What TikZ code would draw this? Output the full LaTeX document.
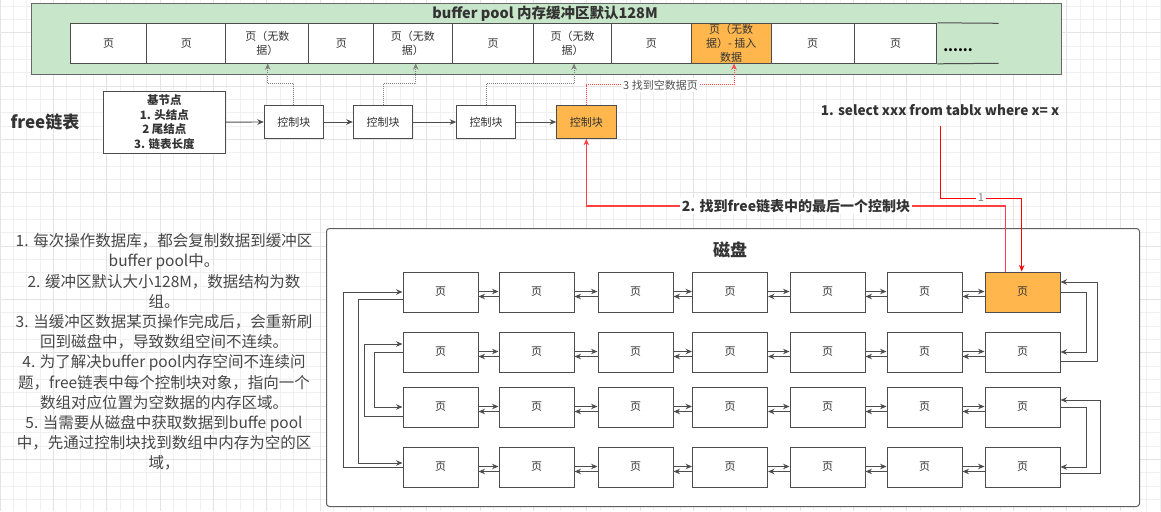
\documentclass[tikz,border=0pt]{standalone}
\usepackage{fontspec}
\setmainfont{Noto Sans CJK SC}
\usetikzlibrary{arrows.meta,calc}
\definecolor{bpgreen}{RGB}{200,230,201}
\definecolor{orng}{RGB}{255,183,77}
\definecolor{bdr}{RGB}{77,77,77}
\definecolor{txt}{RGB}{51,51,51}
\definecolor{gridA}{RGB}{240,240,240}
\definecolor{gridB}{RGB}{228,228,228}
\begin{document}
\begin{tikzpicture}[x=1pt,y=-1pt,
  every node/.style={inner sep=0pt,text=txt},
  cell/.style={draw=bdr,line width=1pt,fill=white,minimum height=40pt,align=center,
    font=\fontsize{11}{14}\selectfont},
  cbox/.style={draw=bdr,line width=1pt,fill=white,minimum height=32.6pt,align=center,
    font=\fontsize{11}{14}\selectfont},
  page/.style={draw=bdr,line width=1pt,fill=white,minimum width=75pt,minimum height=40pt,
    font=\fontsize{11}{14}\selectfont},
  arr/.style={draw=bdr,line width=0.9pt,-{Stealth[length=6.5pt,width=5.5pt]}},
  dotline/.style={draw=gray,line width=0.9pt,dash pattern=on 1pt off 1pt,-{Stealth[length=6.5pt,width=5.5pt]}},
  reddot/.style={draw=red!70,line width=0.9pt,dash pattern=on 1pt off 1pt,-{Stealth[length=6.5pt,width=5.5pt]}},
  redarr/.style={draw=red,line width=0.9pt,-{Stealth[length=6.5pt,width=5.5pt]}},
  redarrb/.style={draw=red!75,line width=1.1pt,-{Stealth[length=6.5pt,width=5.5pt]}},
  lbl/.style={fill=white,inner sep=1.5pt},
  bold14/.style={font=\bfseries\fontsize{14}{16}\selectfont},
]
\useasboundingbox (0,0) rectangle (1161,511);
\fill[white] (0,0) rectangle (1161,511);
% background grid
\foreach \i in {0,...,87} \draw[gridA,line width=0.8pt] (\i*13.333,0) -- (\i*13.333,511);
\foreach \j in {0,...,38} \draw[gridA,line width=0.8pt] (0,6+\j*13.333) -- (1161,6+\j*13.333);
\foreach \i in {0,4,...,84} \draw[gridB,line width=0.8pt] (\i*13.333,0) -- (\i*13.333,511);
\foreach \j in {2,6,...,38} \draw[gridB,line width=0.8pt] (0,6+\j*13.333) -- (1161,6+\j*13.333);

% buffer pool
\node[draw=bdr!85,fill=bpgreen,line width=1pt,minimum width=1030.3pt,minimum height=70.7pt,anchor=north west] (bp) at (30.7,3.3) {};
\node[bold14,font=\bfseries\fontsize{14.5}{16}\selectfont] (bpt) at (545,13.3) {buffer pool 内存缓冲区默认128M};
\node[cell,minimum width=76.6pt] (c1) at (108.6,43.3) {页};
\node[cell,minimum width=78.8pt] (c2) at (186.3,43.3) {页};
\node[cell,minimum width=83.2pt] (c3) at (267.3,43.3) {页（无数\\据）};
\node[cell,minimum width=64.8pt] (c4) at (341.3,43.3) {页};
\node[cell,minimum width=78.4pt] (c5) at (412.9,43.3) {页（无数\\据）};
\node[cell,minimum width=81.8pt] (c6) at (493,43.3) {页};
\node[cell,minimum width=77.6pt] (c7) at (572.7,43.3) {页（无数\\据）};
\node[cell,minimum width=79.7pt] (c8) at (651.35,43.3) {页};
\node[cell,minimum width=80pt,fill=orng] (c9) at (731.2,43.3) {页（无数\\据）- 插入\\数据};
\node[cell,minimum width=83pt] (c10) at (812.7,43.3) {页};
\node[cell,minimum width=82.6pt] (c11) at (895.5,43.3) {页};
\coordinate (e1) at (998.7,23.3);
\coordinate (e2) at (998.7,63.3);
\draw[bdr,line width=1pt] (c11.north east) -- (e1);
\draw[bdr,line width=1pt] (c11.south east) -- (e2);
\node[font=\bfseries\fontsize{14}{16}\selectfont,text=black] (dots) at (958,50) {......};

% free list
\node[font=\bfseries\fontsize{17}{20}\selectfont] (free) at (45,122) {free链表};
\node[cbox,minimum width=122.7pt,minimum height=62.3pt,font=\bfseries\fontsize{11.5}{14.7}\selectfont] (base) at (164.35,122.15) {基节点\\1. 头结点\\2 尾结点\\3. 链表长度};
\node[cbox,minimum width=59pt] (cb1) at (293.8,122) {控制块};
\node[cbox,minimum width=59.4pt] (cb2) at (383,122) {控制块};
\node[cbox,minimum width=59pt] (cb3) at (486.2,122) {控制块};
\node[cbox,minimum width=59.3pt,fill=orng] (cb4) at (586.35,122) {控制块};
\draw[arr] (base.east) -- (cb1.west);
\draw[arr] (cb1.east) -- (cb2.west);
\draw[arr] (cb2.east) -- (cb3.west);
\draw[arr] (cb3.east) -- (cb4.west);

\coordinate (t3) at (267.7,63.3);
\coordinate (t5) at (415.7,63.3);
\coordinate (t7) at (574,63.3);
\coordinate (t9) at (734,63.3);
\draw[dotline] (cb1.north) -- ++(0,-21.4) -| (t3);
\draw[dotline] (cb2.north) -- ++(0,-21.4) -| (t5);
\draw[dotline] (cb3.north) -- ++(0,-21.4) -| (t7);
\draw[reddot] (cb4.north) -- ++(0,-20.7) -| (t9);
\node[lbl,font=\fontsize{11}{13}\selectfont,text=txt!85] (l3) at (660.5,85) {3 找到空数据页};

% disk
\node[draw=bdr!90,fill=white,line width=1pt,rounded corners=3pt,minimum width=813pt,minimum height=278pt,anchor=north west] (disk) at (326,228) {};
\node[font=\bfseries\fontsize{17}{20}\selectfont] (diskt) at (730,250) {磁盘};
\foreach \r/\yc in {1/292,2/352,3/407,4/467}
  \foreach \c/\xc in {1/440.5,2/536.5,3/635.5,4/730,5/827.5,6/924.5,7/1022.5}
    \node[page] (p\r\c) at (\xc,\yc) {页};
\node[page,fill=orng] (p17) at (1022.5,292) {页};
\foreach \r in {1,2,3,4} {
  \foreach \c in {1,2,3,4,5,6} {
    \pgfmathtruncatemacro{\nx}{\c+1}
    \draw[arr] ([yshift=0.5pt]p\r\c.east) -- ([yshift=0.5pt]p\r\nx.west);
    \draw[arr] ([yshift=-4.5pt]p\r\nx.west) -- ([yshift=-4.5pt]p\r\c.east);
  }
}
% right loops
\draw[arr] ([yshift=-9pt]p27.east) -- ++(36.5,0) |- ([yshift=10pt]p17.east);
\draw[arr] (p17.east) -- ++(25.7,0) |- (p27.east);
\draw[arr] ([yshift=-6pt]p47.east) -- ++(39.5,0) |- ([yshift=7pt]p37.east);
\draw[arr] (p37.east) -- ++(26,0) |- (p47.east);
% left loops
\draw[arr] (p41.west) -- ++(-59,0) |- (p11.west);
\draw[arr] ([yshift=-7pt]p11.west) -- ++(-44,0) |- ([yshift=4pt]p41.west);
\draw[arr] ([yshift=-9pt]p31.west) -- ++(-38,0) |- ([yshift=8pt]p21.west);
\draw[arr] (p21.west) -- ++(-28,0) |- (p31.west);

% query lines
\node[font=\bfseries\fontsize{13.6}{16}\selectfont] (sel) at (940,110) {1. select xxx from tablx where x= x};
\coordinate (s1) at (940,126);
\coordinate (k1) at (1021.7,198);
\draw[redarr] (s1) |- (k1) -- (k1 |- p17.north);
\node[lbl,font=\fontsize{11}{13}\selectfont,text=gray] (l1) at (981,198) {1};
\coordinate (k2) at (1005.7,206);
\draw[redarrb] (k2 |- p17.north) -- (k2) -| (cb4.south);
\node[lbl,bold14] (l2) at (796,206) {2. 找到free链表中的最后一个控制块};

% notes
\node[align=center,font=\fontsize{15.5}{20.2}\selectfont,text=txt!90] (notes) at (164,352) {1. 每次操作数据库，都会复制数据到缓冲区\\buffer pool中。\\2. 缓冲区默认大小128M，数据结构为数\\组。\\3. 当缓冲区数据某页操作完成后，会重新刷\\回到磁盘中，导致数组空间不连续。\\4. 为了解决buffer pool内存空间不连续问\\题，free链表中每个控制块对象，指向一个\\数组对应位置为空数据的内存区域。\\5. 当需要从磁盘中获取数据到buffe pool\\中，先通过控制块找到数组中内存为空的区\\域，};
\end{tikzpicture}
\end{document}
